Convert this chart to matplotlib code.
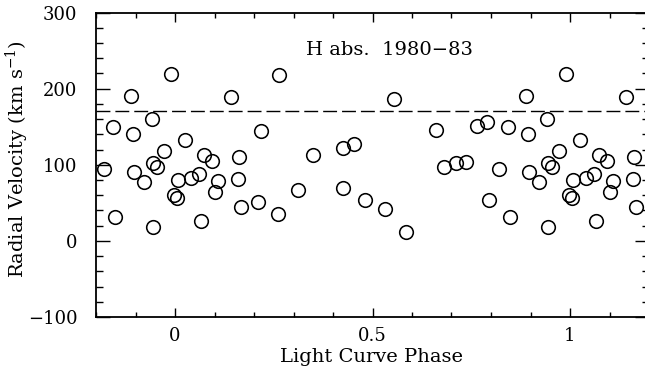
import matplotlib
matplotlib.use("Agg")
import matplotlib.pyplot as plt
from matplotlib.ticker import MultipleLocator, FixedLocator, FixedFormatter

# ---- data (base phase in [0,1), radial velocity km/s) ----
phase = [0.820, 0.842, 0.848, 0.889, 0.894, 0.895, 0.921, 0.941, 0.944, 0.954,
         0.944, 0.971, 0.990, 0.997,
         0.005, 0.008, 0.025, 0.041, 0.062, 0.066, 0.074, 0.093, 0.100, 0.108,
         0.143, 0.163, 0.159, 0.167, 0.209, 0.218, 0.264, 0.262, 0.312, 0.349,
         0.425, 0.452, 0.425, 0.481, 0.555, 0.532, 0.585, 0.661, 0.680, 0.711,
         0.737, 0.765, 0.790, 0.796]
velocity = [94, 149, 32, 190, 141, 90, 77, 160, 102, 97,
            18, 118, 219, 60,
            56, 80, 132, 83, 88, 26, 113, 105, 64, 78,
            189, 110, 81, 45, 51, 144, 218, 35, 67, 113,
            122, 127, 70, 54, 186, 42, 12, 145, 97, 102,
            103, 151, 156, 54]
mean_velocity = 170
xlim = (-0.2, 1.2)
ylim = (-100, 300)
xticks = [0, 0.5, 1]
xticklabels = ["0", "0.5", "1"]
yticks = [-100, 0, 100, 200, 300]
annotation = "H abs.  1980\u221283"

plt.rcParams['font.family'] = ['DejaVu Serif']
plt.rcParams['mathtext.fontset'] = 'dejavuserif'

fig = plt.figure(figsize=(6.45, 3.70), dpi=100)
W, H = 645, 370
left, right, top, bottom = 96, 649, 12.5, 317
ax = fig.add_axes([left / W, (H - bottom) / H, (right - left) / W, (bottom - top) / H])

xs, ys = [], []
for p, v in zip(phase, velocity):
    for shift in (-1, 0, 1):
        q = p + shift
        if xlim[0] <= q <= xlim[1]:
            xs.append(q)
            ys.append(v)

ax.plot(xs, ys, linestyle='none', marker='o', markersize=9.8,
        markerfacecolor='none', markeredgecolor='black', markeredgewidth=1.15,
        clip_on=False)
ax.axhline(mean_velocity, color='black', linewidth=1.0, dashes=(10, 3.6))

ax.set_xlim(*xlim)
ax.set_ylim(*ylim)
ax.xaxis.set_major_locator(FixedLocator(xticks))
ax.xaxis.set_major_formatter(FixedFormatter(xticklabels))
ax.xaxis.set_minor_locator(MultipleLocator(0.1))
ax.yaxis.set_major_locator(FixedLocator(yticks))
ax.yaxis.set_minor_locator(MultipleLocator(20))

ax.tick_params(axis='both', which='both', direction='in', top=True, right=True,
               labelsize=13, width=1.0, color='black')
ax.tick_params(axis='x', which='major', length=6.5, pad=7.5)
ax.tick_params(axis='x', which='minor', length=3.5)
ax.tick_params(axis='y', which='major', length=10, pad=13.5)
ax.tick_params(axis='y', which='minor', length=5)
for s in ax.spines.values():
    s.set_linewidth(1.3)

ax.text(0.542, 251, annotation, ha='center', va='center', fontsize=14)

ax.set_xlabel("Light Curve Phase", fontsize=14)
ax.set_ylabel("Radial Velocity (km s$^{-1}$)", fontsize=14)
ax.xaxis.set_label_coords(0.499, -0.102)
ax.yaxis.set_label_coords(-0.118, 0.52)

fig.savefig("out.png", dpi=100)
